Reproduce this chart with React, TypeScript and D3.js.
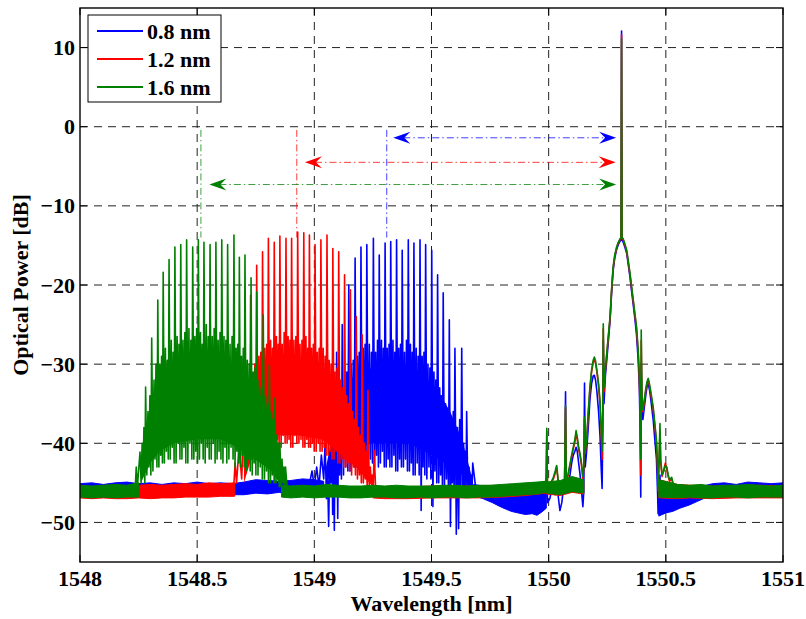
import React from 'react';
import * as d3 from 'd3';

// ---------- data ----------
const wavelengthTicks = [1548, 1548.5, 1549, 1549.5, 1550, 1550.5, 1551];
const powerTicks = [-50, -40, -30, -20, -10, 0, 10];
const seriesLabels = ['0.8 nm', '1.2 nm', '1.6 nm'];

// noise-floor bands: [wavelength, low dB, high dB]
const blueBand = [
  [[1548.0, -46.6, -45.1], [1548.05, -46.5, -45.0], [1548.1, -46.7, -45.2], [1548.15, -46.6, -45.0], [1548.2, -46.5, -44.9], [1548.25, -46.6, -45.1], [1548.3, -46.7, -45.0], [1548.35, -46.5, -45.2], [1548.4, -46.7, -45.0], [1548.45, -46.6, -45.1], [1548.5, -46.5, -44.9], [1548.55, -46.6, -45.1], [1548.6, -46.6, -45.0], [1548.65, -46.5, -45.1], [1548.7, -46.5, -44.9], [1548.75, -46.3, -44.6], [1548.8, -46.4, -44.7], [1548.85, -46.2, -44.8], [1548.9, -46.5, -44.7], [1548.95, -46.3, -44.5], [1549.0, -46.3, -44.6], [1549.04, -46.3, -44.8]],
  [[1549.68, -46.6, -45.2], [1549.72, -47.0, -45.4], [1549.76, -47.5, -45.5], [1549.8, -48.1, -45.9], [1549.84, -48.6, -46.2], [1549.87, -48.8, -46.3], [1549.9, -49.0, -46.5], [1549.93, -48.9, -46.4], [1549.95, -49.1, -46.4], [1549.97, -48.7, -46.2], [1549.99, -48.2, -46.0]],
  [[1550.47, -49.2, -46.8], [1550.5, -48.8, -46.6], [1550.53, -48.6, -46.3], [1550.56, -48.2, -46.3], [1550.6, -47.8, -46.0], [1550.63, -47.4, -45.7], [1550.66, -47.0, -45.4], [1550.7, -46.6, -45.1], [1550.75, -46.7, -45.0], [1550.8, -46.6, -45.2], [1550.85, -46.5, -44.9], [1550.9, -46.6, -45.0], [1550.95, -46.7, -45.1], [1551.0, -46.6, -45.0]],
];
const redBand = [
  [[1548.0, -46.9, -45.4], [1548.05, -47.0, -45.5], [1548.1, -46.9, -45.5], [1548.15, -47.0, -45.3], [1548.2, -47.0, -45.4], [1548.25, -46.9, -45.3], [1548.3, -47.0, -45.2], [1548.35, -46.9, -45.3], [1548.4, -46.9, -45.2], [1548.45, -46.8, -45.1], [1548.5, -46.8, -45.2], [1548.55, -46.8, -45.0], [1548.6, -46.7, -45.1], [1548.66, -46.7, -45.0]],
  [[1549.25, -46.9, -45.4], [1549.3, -47.0, -45.5], [1549.4, -47.0, -45.5], [1549.5, -46.9, -45.4], [1549.6, -46.9, -45.4], [1549.7, -46.9, -45.4], [1549.8, -46.8, -45.3], [1549.9, -46.6, -45.1], [1549.99, -46.3, -44.9]],
  [[1549.99, -46.4, -45.0], [1550.05, -46.6, -44.8], [1550.1, -46.2, -44.4], [1550.15, -46.4, -44.8]],
  [[1550.47, -46.9, -44.6], [1550.55, -47.0, -45.2], [1550.6, -46.9, -45.3], [1550.7, -47.0, -45.4], [1550.8, -46.9, -45.4], [1550.9, -46.9, -45.3], [1551.0, -46.9, -45.4]],
];
const greenBand = [
  [[1548.0, -46.8, -45.3], [1548.05, -46.9, -45.4], [1548.1, -46.8, -45.3], [1548.15, -46.9, -45.2], [1548.2, -46.8, -45.3], [1548.25, -46.8, -45.0]],
  [[1548.86, -46.8, -45.3], [1548.9, -46.9, -45.4], [1548.95, -46.8, -45.3], [1549.0, -46.9, -45.4], [1549.05, -46.8, -45.2], [1549.1, -46.8, -45.3], [1549.15, -46.9, -45.4], [1549.2, -46.9, -45.4], [1549.25, -46.8, -45.3], [1549.3, -46.8, -45.4], [1549.35, -46.9, -45.3], [1549.4, -46.9, -45.4], [1549.45, -46.8, -45.4], [1549.5, -46.9, -45.4], [1549.55, -46.8, -45.3], [1549.6, -46.8, -45.3], [1549.65, -46.9, -45.4], [1549.7, -46.8, -45.3], [1549.75, -46.8, -45.3], [1549.8, -46.7, -45.2], [1549.85, -46.6, -45.1], [1549.9, -46.5, -45.0], [1549.95, -46.4, -44.9], [1549.99, -46.2, -44.8]],
  [[1549.99, -46.3, -44.9], [1550.05, -46.5, -44.7], [1550.1, -46.1, -44.2], [1550.15, -46.3, -44.6]],
  [[1550.47, -46.8, -44.6], [1550.55, -46.9, -45.2], [1550.6, -46.8, -45.3], [1550.65, -46.9, -45.2], [1550.7, -46.9, -45.4], [1550.75, -46.8, -45.3], [1550.8, -46.8, -45.3], [1550.85, -46.9, -45.2], [1550.9, -46.8, -45.3], [1550.95, -46.8, -45.4], [1551.0, -46.8, -45.3]],
];

// comb pedestal core: [wavelength, low dB, high dB]
const blueBody = [[1549.05, -45, -43], [1549.09, -43, -37], [1549.13, -41.5, -33], [1549.18, -40.5, -31], [1549.25, -40, -30.5], [1549.32, -40, -30.5], [1549.4, -40, -31], [1549.47, -41, -31.5], [1549.53, -42, -33.5], [1549.58, -43, -36], [1549.63, -44, -39.5], [1549.67, -45.5, -44]];
const redBody = [[1548.7, -45, -43], [1548.73, -42, -35], [1548.77, -40, -31], [1548.83, -39, -30], [1548.93, -39, -29.5], [1549.03, -39.5, -30.5], [1549.08, -40.5, -32], [1549.13, -42, -35], [1549.18, -43, -38], [1549.22, -44.5, -42], [1549.25, -45.5, -45]];
const greenBody = [[1548.26, -45, -44], [1548.3, -42.5, -36], [1548.34, -41, -32], [1548.4, -40, -29.5], [1548.5, -39.5, -29], [1548.6, -39.5, -29.5], [1548.67, -40.5, -30.5], [1548.72, -41.5, -32], [1548.77, -42.5, -34], [1548.82, -43.5, -37], [1548.86, -45.5, -43]];

// comb lines: peaks [wavelength, dB] and the fine structure between consecutive peaks
const blueCombLead = [[1548.98, -45], [1548.99, -43.5], [1549.0, -45.5], [1549.01, -43], [1549.02, -45.5], [1549.03, -41.5], [1549.04, -44.5]];
const blueCombPeaks = [[1549.046, -40], [1549.074, -34.3], [1549.095, -28.5], [1549.119, -25], [1549.147, -20], [1549.174, -16.6], [1549.199, -15.2], [1549.224, -14.9], [1549.252, -14.1], [1549.277, -16.2], [1549.302, -14.7], [1549.326, -14.5], [1549.351, -14.3], [1549.375, -15.6], [1549.401, -14.3], [1549.425, -14.7], [1549.451, -14.3], [1549.475, -14.9], [1549.501, -15.6], [1549.526, -18.7], [1549.55, -21], [1549.576, -24.4], [1549.6, -28], [1549.629, -28], [1549.65, -36], [1549.676, -42.5]];
const blueCombGaps = [
  [-47, -44, -50.5, -42, -45], [-49, -40, -51, -38, -46], [-49.5, -36, -44, -33, -44.5], [-44, -32, -43, -31, -43.5], [-43.5, -30, -42.5, -29.5, -43],
  [-43, -29, -42, -28.5, -43], [-43, -28, -41.5, -27.5, -43], [-43, -27.5, -42, -28.5, -42.5], [-43, -28.5, -41.5, -27, -43], [-42.5, -27, -41, -28, -43],
  [-43, -28, -42, -27.5, -43], [-43, -27, -41.5, -28.5, -43.5], [-43.5, -28, -42, -27.5, -43], [-43, -28.5, -42, -27, -43.5], [-43.5, -27.5, -42.5, -28.5, -44],
  [-44, -28, -42.5, -29, -44], [-48.5, -29, -43, -28.5, -44], [-44.5, -30, -43, -30.5, -44.5], [-48, -31, -43.5, -32, -45], [-45, -33, -44, -34, -45.5],
  [-46, -35, -44.5, -36, -46], [-50.5, -37, -45, -36, -46.5], [-51.5, -38, -50.8, -37, -46], [-46, -40, -45.5, -41, -46.5], [-46.5, -43, -46, -44, -46.5],
];
const blueCombTail = [[1549.69, -46]];

const redCombLead = [[1548.655, -46], [1548.662, -42.5], [1548.668, -45], [1548.679, -40.5], [1548.69, -44.5]];
const redCombPeaks = [[1548.704, -33.5], [1548.728, -21.3], [1548.754, -17.5], [1548.779, -15.8], [1548.804, -14.1], [1548.829, -14.6], [1548.853, -13.8], [1548.879, -14.1], [1548.903, -14.1], [1548.929, -13.3], [1548.955, -13.4], [1548.979, -13.7], [1549.003, -14.9], [1549.028, -14.3], [1549.054, -13.7], [1549.079, -15.4], [1549.104, -15.8], [1549.129, -18.7], [1549.154, -20.6], [1549.179, -24], [1549.204, -26.3], [1549.229, -33.3], [1549.255, -40.9]];
const redCombGaps = [
  [-43, -37, -42, -35, -42.5], [-42, -32, -41, -30, -41.5], [-41, -29, -40, -28.5, -41], [-40.5, -28, -39.5, -27.5, -40.5], [-40.5, -27, -39, -28, -40.5],
  [-40, -26.5, -39.5, -27.5, -40.5], [-40.5, -27.5, -39, -26, -40], [-40, -26.5, -39.5, -27, -40.5], [-40.5, -27, -39, -26.5, -40], [-40, -27.5, -39.5, -27, -40.5],
  [-40.5, -26.5, -39.5, -28, -40.5], [-40.5, -28, -40, -27.5, -41], [-41, -28.5, -40, -28, -41], [-41, -28, -40.5, -29, -41.5], [-41.5, -29.5, -41, -30, -42],
  [-42, -31, -41, -30.5, -42.5], [-42.5, -32, -42, -33, -43], [-43, -34, -42.5, -35, -43.5], [-44, -36, -43, -37, -44], [-44.5, -38, -44, -39, -45],
  [-45, -40, -44.5, -41, -45.5], [-45.5, -43, -45, -44, -46],
];
const redCombTail = [[1549.262, -46]];

const greenCombLead = [[1548.235, -46], [1548.24, -43], [1548.245, -45.5]];
const greenCombPeaks = [[1548.256, -41.1], [1548.28, -32.9], [1548.306, -26.7], [1548.332, -21.9], [1548.355, -18.4], [1548.38, -16.8], [1548.405, -15.2], [1548.43, -14.9], [1548.455, -14.3], [1548.481, -15.2], [1548.505, -14.3], [1548.529, -14.6], [1548.555, -14.9], [1548.58, -14.6], [1548.605, -14.3], [1548.63, -14.9], [1548.657, -13.7], [1548.68, -16.5], [1548.704, -16.2], [1548.73, -19.1], [1548.754, -20.9], [1548.782, -23.8], [1548.808, -30.1], [1548.832, -34.3], [1548.853, -39.9], [1548.877, -43]];
const greenCombGaps = [
  [-45, -40, -44, -38, -45], [-44, -36, -43, -34, -44], [-43.5, -32, -42, -30, -43], [-43, -30, -41.5, -29, -42.5], [-42.5, -28, -41, -29.5, -42],
  [-42, -27, -40.5, -28.5, -42.5], [-42.5, -26.5, -40, -27.5, -42], [-42, -27, -40.5, -26, -42.5], [-42.5, -25.5, -40, -27, -42], [-42, -26.5, -41, -25.5, -42.5],
  [-42, -26, -40, -27.5, -42], [-42.5, -25, -40.5, -26.5, -42], [-42, -26.5, -40, -25.5, -42.5], [-42, -27, -41, -26, -42], [-42.5, -26.5, -40.5, -27, -42.5],
  [-42, -27.5, -40.5, -26.5, -42], [-43, -28, -41, -27.5, -42.5], [-43, -29, -41.5, -28, -43], [-43.5, -29.5, -42, -30, -43.5], [-44, -31, -42.5, -30.5, -44],
  [-44, -32, -43, -33, -44.5], [-44.5, -34, -43.5, -35, -45], [-45, -36, -44, -37, -45], [-45, -39, -44.5, -40, -45.5], [-45.5, -42, -45, -43, -46],
];
const greenCombTail = [[1548.885, -46]];

const blueSignal = [
  [1549.975, -47.5], [1549.985, -47], [1549.99, -45.5], [1549.992, -40], [1549.995, -47.5], [1550.005, -47], [1550.012, -46], [1550.02, -45.5], [1550.028, -46.5], [1550.034, -45], [1550.04, -46.5], [1550.048, -48.5], [1550.056, -47.5], [1550.062, -46], [1550.068, -45], [1550.072, -33.5], [1550.075, -46], [1550.082, -45.5], [1550.091, -44], [1550.098, -42.5], [1550.105, -41.5], [1550.112, -41], [1550.117, -40.5], [1550.122, -41], [1550.128, -42.5], [1550.134, -44], [1550.14, -46], [1550.146, -48], [1550.15, -46], [1550.153, -32.4], [1550.156, -43], [1550.162, -41], [1550.169, -38], [1550.176, -34.5], [1550.183, -32.5], [1550.19, -31.5], [1550.195, -31.4], [1550.2, -32], [1550.206, -33.5], [1550.213, -36], [1550.219, -39], [1550.224, -43], [1550.228, -45.7], [1550.231, -38], [1550.233, -27], [1550.236, -35], [1550.242, -31.5], [1550.248, -29.5], [1550.255, -27], [1550.262, -24.5], [1550.268, -21.3], [1550.275, -18.2], [1550.282, -16.6], [1550.29, -15.5], [1550.297, -14.9], [1550.304, -14.5], [1550.309, -14.3], [1550.311, 12.1], [1550.313, -14.3], [1550.317, -14.5], [1550.325, -15.2], [1550.333, -16], [1550.34, -17.5], [1550.347, -19], [1550.354, -20.8], [1550.361, -22.5], [1550.368, -24.3], [1550.375, -26.3], [1550.382, -29.5], [1550.387, -33], [1550.39, -38], [1550.393, -46.8], [1550.395, -30], [1550.398, -36], [1550.402, -37], [1550.408, -35.5], [1550.415, -33.8], [1550.42, -32.8], [1550.425, -32.5], [1550.43, -33.2], [1550.436, -34.5], [1550.446, -37], [1550.453, -39.5], [1550.46, -42], [1550.465, -46.5], [1550.467, -48.9], [1550.47, -47], [1550.475, -44], [1550.478, -47.5], [1550.484, -48],
];
const redSignal = [
  [1549.975, -46.2], [1549.985, -45.5], [1549.99, -44.2], [1549.992, -38.5], [1549.995, -46], [1550.005, -45.7], [1550.012, -45], [1550.02, -44.5], [1550.028, -43.8], [1550.034, -43], [1550.04, -44.7], [1550.048, -45.7], [1550.056, -46.2], [1550.062, -46], [1550.068, -44.7], [1550.072, -35.5], [1550.075, -44.7], [1550.082, -44.2], [1550.091, -42.8], [1550.098, -41.7], [1550.105, -40.7], [1550.112, -39.8], [1550.117, -38.8], [1550.122, -39.5], [1550.128, -40.8], [1550.134, -41.6], [1550.14, -42.8], [1550.146, -44.5], [1550.15, -43.3], [1550.153, -37], [1550.156, -41.3], [1550.162, -39.8], [1550.169, -36.3], [1550.176, -33.2], [1550.183, -31], [1550.19, -29.8], [1550.195, -29.4], [1550.2, -29.9], [1550.206, -31], [1550.213, -32.8], [1550.219, -35], [1550.224, -38.5], [1550.228, -42], [1550.231, -36.5], [1550.233, -25.5], [1550.236, -33.5], [1550.242, -30.8], [1550.248, -28.8], [1550.255, -26.5], [1550.262, -24.2], [1550.268, -21], [1550.275, -17.9], [1550.282, -16.4], [1550.29, -15.3], [1550.297, -14.7], [1550.304, -14.3], [1550.309, -14.1], [1550.311, 11.6], [1550.313, -14.1], [1550.317, -14.2], [1550.325, -14.9], [1550.333, -15.8], [1550.34, -17.2], [1550.347, -18.7], [1550.354, -20.4], [1550.361, -22.1], [1550.368, -23.8], [1550.375, -25.6], [1550.382, -28.5], [1550.387, -32], [1550.39, -35.5], [1550.393, -44], [1550.395, -27], [1550.398, -34.5], [1550.402, -36], [1550.408, -34.8], [1550.415, -33.2], [1550.42, -32.4], [1550.425, -32], [1550.43, -32.7], [1550.436, -33.8], [1550.446, -35.7], [1550.453, -37.8], [1550.46, -40], [1550.465, -43.5], [1550.467, -46], [1550.47, -43.5], [1550.475, -38.5], [1550.478, -42.5], [1550.484, -44.2], [1550.492, -43.2], [1550.498, -42.5], [1550.504, -43.2], [1550.51, -44.2], [1550.516, -44.8], [1550.525, -44.5], [1550.532, -45.3], [1550.54, -45.7], [1550.555, -46], [1550.57, -46.1],
];
const greenSignal = [
  [1549.975, -46], [1549.985, -45.3], [1549.99, -44], [1549.992, -38.1], [1549.995, -45.8], [1550.005, -45.5], [1550.012, -44.8], [1550.02, -44.3], [1550.028, -43.5], [1550.034, -42.8], [1550.04, -44.5], [1550.048, -45.5], [1550.056, -46], [1550.062, -45.8], [1550.068, -44.5], [1550.072, -35.2], [1550.075, -44.5], [1550.082, -44], [1550.091, -42.6], [1550.098, -41.5], [1550.105, -40.5], [1550.112, -39.5], [1550.117, -38.4], [1550.122, -39.2], [1550.128, -40.5], [1550.134, -41.3], [1550.14, -42.5], [1550.146, -44.2], [1550.15, -43], [1550.153, -36.7], [1550.156, -41], [1550.162, -39.6], [1550.169, -36], [1550.176, -32.9], [1550.183, -30.8], [1550.19, -29.5], [1550.195, -29.1], [1550.2, -29.6], [1550.206, -30.8], [1550.213, -32.5], [1550.219, -34.6], [1550.224, -38], [1550.228, -41], [1550.231, -36], [1550.233, -24.9], [1550.236, -33], [1550.242, -30.5], [1550.248, -28.6], [1550.255, -26.3], [1550.262, -24], [1550.268, -20.8], [1550.275, -17.7], [1550.282, -16.2], [1550.29, -15.2], [1550.297, -14.6], [1550.304, -14.2], [1550.309, -14], [1550.311, 11.1], [1550.313, -14], [1550.317, -14.1], [1550.325, -14.8], [1550.333, -15.6], [1550.34, -17], [1550.347, -18.5], [1550.354, -20.2], [1550.361, -21.9], [1550.368, -23.6], [1550.375, -25.3], [1550.382, -28.2], [1550.387, -31.5], [1550.39, -34.6], [1550.393, -42], [1550.395, -25.7], [1550.398, -34], [1550.402, -35.8], [1550.408, -34.5], [1550.415, -33], [1550.42, -32.2], [1550.425, -31.8], [1550.43, -32.5], [1550.436, -33.5], [1550.446, -35.4], [1550.453, -37.5], [1550.46, -39.6], [1550.465, -43], [1550.467, -45.5], [1550.47, -43], [1550.475, -37.5], [1550.478, -42], [1550.484, -44], [1550.492, -43.5], [1550.498, -42.8], [1550.504, -43], [1550.51, -44], [1550.516, -44.6], [1550.525, -44.3], [1550.532, -45.2], [1550.54, -45.5], [1550.555, -45.9], [1550.57, -46],
];

// channel-spacing annotations
const annGuide = [1549.309, 1548.925, 1548.516];
const annStart = [1549.337, 1548.96, 1548.552];
const annEnd = [1550.288, 1550.286, 1550.288];
const annLevel = [-1.4, -4.5, -7.3];
const annGuideTop = -0.4;
const annGuideBottom = -14;

const colors = ['#0000ff', '#ff0000', '#008000'];

// fine-structure sample positions within one comb period (fraction of the gap)
const gapFractions = [0.2, 0.38, 0.54, 0.7, 0.86];

function buildComb(lead: number[][], peaks: number[][], gaps: number[][], tail: number[][]) {
  const pts: number[][] = [...lead];
  peaks.forEach((p, i) => {
    pts.push(p);
    if (i < peaks.length - 1 && gaps[i]) {
      const next = peaks[i + 1];
      gaps[i].forEach((v, k) => pts.push([p[0] + (next[0] - p[0]) * gapFractions[k], v]));
    }
  });
  return pts.concat(tail);
}

const seriesData = [
  { band: blueBand, body: blueBody, traces: [buildComb(blueCombLead, blueCombPeaks, blueCombGaps, blueCombTail), blueSignal] },
  { band: redBand, body: redBody, traces: [buildComb(redCombLead, redCombPeaks, redCombGaps, redCombTail), redSignal] },
  { band: greenBand, body: greenBody, traces: [buildComb(greenCombLead, greenCombPeaks, greenCombGaps, greenCombTail), greenSignal] },
];

// ---------- layout ----------
const W = 806, H = 619;
const L = 80, R = 783, T = 8, B = 562;
const FONT = '"Liberation Serif", "Times New Roman", serif';

export default function App() {
  const x = d3.scaleLinear().domain([1548, 1551]).range([L, R]);
  const y = d3.scaleLinear().domain([-55, 15]).range([B, T]);
  const line = d3.line<number[]>().x(d => x(d[0])).y(d => y(d[1]));
  const area = d3.area<number[]>().x(d => x(d[0])).y0(d => y(d[1])).y1(d => y(d[2]));

  const arrowHead = (tx: number, ty: number, dir: number) => {
    const len = 17, hw = 6, notch = 11;
    return `M${tx},${ty} L${tx + dir * len},${ty - hw} L${tx + dir * notch},${ty} L${tx + dir * len},${ty + hw} Z`;
  };

  return (
    <svg width={W} height={H} style={{ position: 'absolute', left: 0, top: 0, background: '#fff' }} fontFamily={FONT}>
      <defs>
        <clipPath id="plot"><rect x={L} y={T} width={R - L} height={B - T} /></clipPath>
      </defs>
      <rect x={0} y={0} width={W} height={H} fill="#fff" />
      {/* grid */}
      <g stroke="#222" strokeWidth={1} strokeDasharray="8,6">
        {wavelengthTicks.slice(1, -1).map(t => <line key={'gx' + t} x1={x(t)} x2={x(t)} y1={T} y2={B} />)}
        {powerTicks.map(t => <line key={'gy' + t} x1={L} x2={R} y1={y(t)} y2={y(t)} />)}
      </g>
      {/* annotations: guides */}
      <g strokeWidth={1} strokeDasharray="7,3,1.5,3" fill="none">
        {annGuide.map((g, i) => (
          <line key={'ag' + i} x1={x(g)} x2={x(g)} y1={y(annGuideTop)} y2={y(annGuideBottom)} stroke={colors[i]} opacity={0.75} />
        ))}
      </g>
      {/* data */}
      <g clipPath="url(#plot)">
        {seriesData.map((s, i) => (
          <g key={'s' + i}>
            {s.band.map((seg, j) => <path key={'b' + j} d={area(seg) || ''} fill={colors[i]} stroke={colors[i]} strokeWidth={1} />)}
            <path d={area(s.body) || ''} fill={colors[i]} />
            {s.traces.map((tr, j) => <path key={'t' + j} d={line(tr) || ''} fill="none" stroke={colors[i]} strokeWidth={1.6} strokeLinejoin="round" />)}
          </g>
        ))}
      </g>
      {/* annotations: arrows */}
      {annLevel.map((lv, i) => (
        <g key={'aa' + i}>
          <line x1={x(annStart[i]) + 10} x2={x(annEnd[i]) - 10} y1={y(lv)} y2={y(lv)} stroke={colors[i]} strokeWidth={1} strokeDasharray="7,3,1.5,3" opacity={0.75} />
          <path d={arrowHead(x(annStart[i]), y(lv), 1)} fill={colors[i]} />
          <path d={arrowHead(x(annEnd[i]), y(lv), -1)} fill={colors[i]} />
        </g>
      ))}
      {/* axes box and ticks */}
      <rect x={L} y={T} width={R - L} height={B - T} fill="none" stroke="#000" strokeWidth={1.4} />
      <g stroke="#000" strokeWidth={1}>
        {wavelengthTicks.map(t => (
          <g key={'tx' + t}>
            <line x1={x(t)} x2={x(t)} y1={B} y2={B - 7} />
            <line x1={x(t)} x2={x(t)} y1={T} y2={T + 7} />
          </g>
        ))}
        {powerTicks.map(t => (
          <g key={'ty' + t}>
            <line x1={L} x2={L + 7} y1={y(t)} y2={y(t)} />
            <line x1={R} x2={R - 7} y1={y(t)} y2={y(t)} />
          </g>
        ))}
      </g>
      {/* tick labels */}
      <g fontSize={22} fontWeight="bold" fill="#000">
        {wavelengthTicks.map(t => (
          <text key={'lx' + t} x={x(t)} y={586} textAnchor="middle">{String(t)}</text>
        ))}
        {powerTicks.map(t => (
          <text key={'ly' + t} x={75} y={y(t) + 7.5} textAnchor="end">{t < 0 ? '\u2212' + Math.abs(t) : String(t)}</text>
        ))}
      </g>
      <text x={(L + R) / 2} y={611} textAnchor="middle" fontSize={22} fontWeight="bold">Wavelength [nm]</text>
      <text transform={`translate(28,${(T + B) / 2}) rotate(-90)`} textAnchor="middle" fontSize={22} fontWeight="bold">Optical Power [dB]</text>
      {/* legend */}
      <g>
        <rect x={88} y={15} width={133} height={87} fill="#fff" stroke="#000" strokeWidth={1} />
        {seriesLabels.map((lab, i) => (
          <g key={'lg' + i}>
            <line x1={97} x2={143} y1={31 + i * 28} y2={31 + i * 28} stroke={colors[i]} strokeWidth={2} />
            <text x={147} y={38.5 + i * 28} fontSize={22} fontWeight="bold">{lab}</text>
          </g>
        ))}
      </g>
    </svg>
  );
}
